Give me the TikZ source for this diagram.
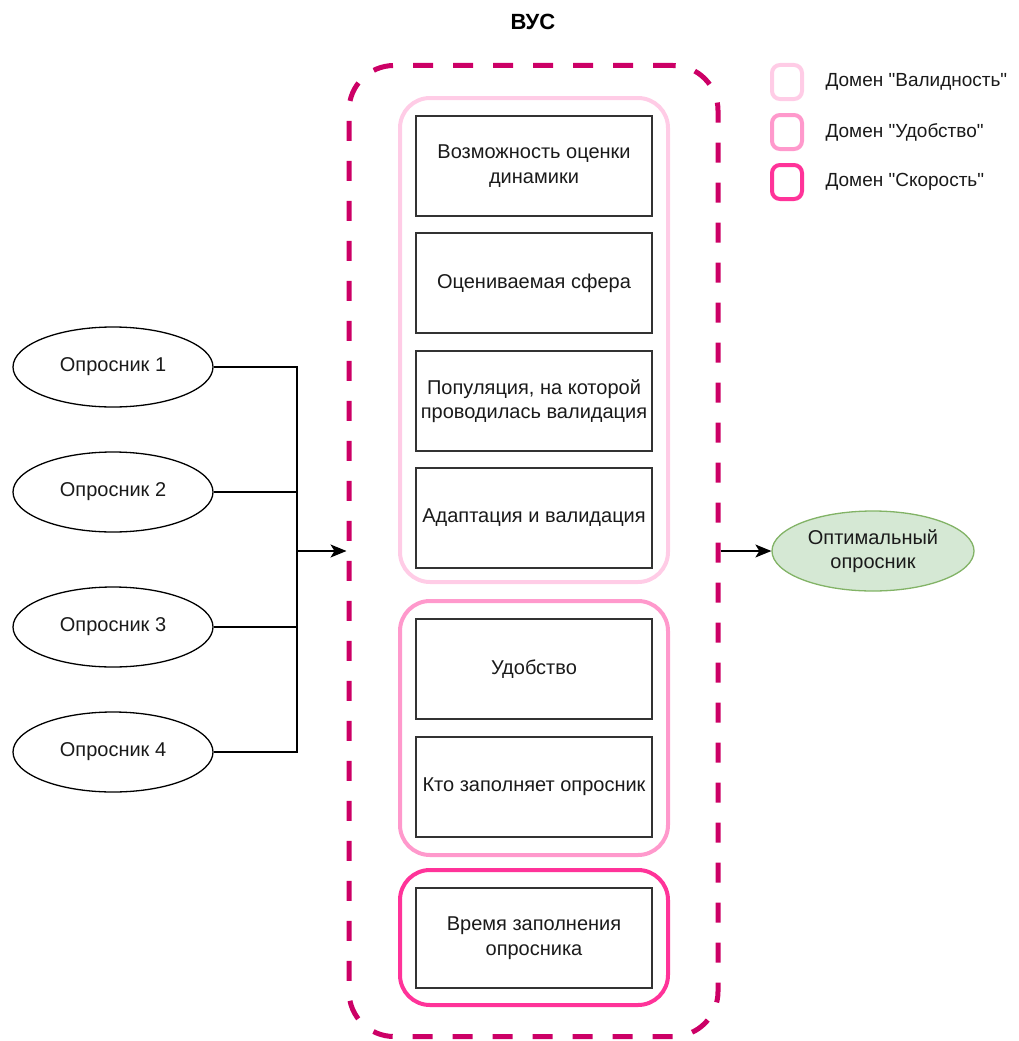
\documentclass[tikz,border=0pt]{standalone}
\usepackage{fontspec}
\setmainfont{Liberation Sans}[Ligatures=TeXOff]
\usetikzlibrary{shapes.geometric,arrows.meta}
\definecolor{vus}{HTML}{CC0066}
\definecolor{gval}{HTML}{FFCCE6}
\definecolor{gudo}{HTML}{FF99CC}
\definecolor{gsko}{HTML}{FF3399}
\definecolor{optfill}{HTML}{D5E8D4}
\definecolor{optline}{HTML}{82B366}
\definecolor{txt}{HTML}{1A1A1A}
\tikzset{
  lbl/.style={font=\fontsize{20}{24.5}\selectfont, text=txt, align=center},
  crit/.style={lbl, draw=black!80, line width=1.4pt, minimum width=236pt, minimum height=100pt, inner sep=0pt},
  grp/.style={line width=4pt, rounded corners=30pt, minimum width=268pt, inner sep=0pt},
  quest/.style={lbl, ellipse, draw=black, line width=1.3pt, minimum width=200pt, minimum height=80pt, inner sep=0pt},
  legbox/.style={line width=4pt, rounded corners=8pt, minimum width=30pt, minimum height=34pt, inner sep=0pt},
  legtxt/.style={font=\fontsize{19}{22}\selectfont, text=txt, anchor=west},
  conn/.style={line width=1.3pt, draw=black},
  arr/.style={conn, -{Stealth[length=16pt,width=13pt,inset=4pt]}},
}
\begin{document}
\begin{tikzpicture}[x=1pt,y=-1pt]
\useasboundingbox (0,0) rectangle (1019,1041);
% title
\node[font=\fontsize{22}{26}\selectfont\bfseries] (title) at (533,22) {ВУС};
% outer dashed container
\node[draw=vus, line width=5pt, dash pattern=on 20pt off 20pt, rounded corners=45pt,
      minimum width=369pt, minimum height=971pt, inner sep=0pt] (vus) at (533.5,551) {};
% domain groups
\node[grp, draw=gval, minimum height=484pt] (g1) at (534,340) {};
\node[grp, draw=gudo, minimum height=254pt] (g2) at (534,728) {};
\node[grp, draw=gsko, minimum height=135pt] (g3) at (534,937.5) {};
% criteria boxes
\node[crit] (c1) at (534,166) {Возможность оценки\\динамики};
\node[crit] (c2) at (534,283) {Оцениваемая сфера};
\node[crit] (c3) at (534,401) {Популяция, на которой\\проводилась валидация};
\node[crit] (c4) at (534,518) {Адаптация и валидация};
\node[crit] (c5) at (534,669) {Удобство};
\node[crit] (c6) at (534,787) {Кто заполняет опросник};
\node[crit] (c7) at (534,938) {Время заполнения\\опросника};
% questionnaires
\node[quest] (o1) at (113,367) {Опросник 1};
\node[quest] (o2) at (113,492) {Опросник 2};
\node[quest] (o3) at (113,627) {Опросник 3};
\node[quest] (o4) at (113,752) {Опросник 4};
\coordinate (j) at (297,551);
\draw[conn] (o1.east) -| (j);
\draw[conn] (o2.east) -| (j);
\draw[conn] (o3.east) -| (j);
\draw[conn] (o4.east) -| (j);
\draw[arr] (j) -- (vus.west);
% optimal
\node[lbl, ellipse, draw=optline, fill=optfill, line width=1.3pt, minimum width=202pt, minimum height=80pt, inner sep=0pt] (opt) at (873,551) {Оптимальный\\опросник};
\draw[arr] (vus.east) -- (opt.west);
% legend
\node[legbox, draw=gval] (l1) at (787,82) {};
\node[legbox, draw=gudo] (l2) at (787,132) {};
\node[legbox, draw=gsko] (l3) at (787,182) {};
\node[legtxt] (t1) at (822,82) {Домен "Валидность"};
\node[legtxt] (t2) at (822,132) {Домен "Удобство"};
\node[legtxt] (t3) at (822,182) {Домен "Скорость"};
\end{tikzpicture}
\end{document}
